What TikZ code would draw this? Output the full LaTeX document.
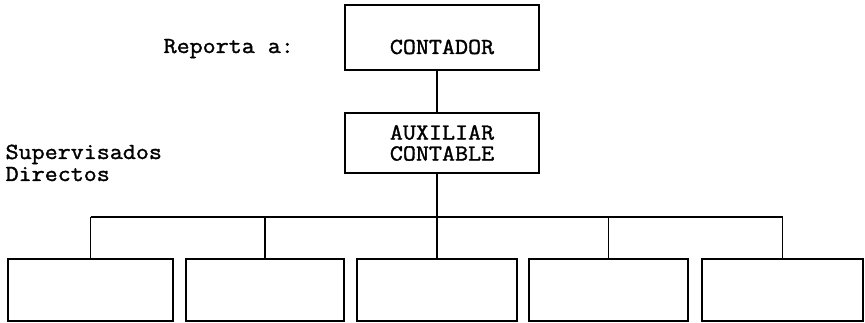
\documentclass[tikz,border=0pt]{standalone}
\usepackage{fontspec}
\newfontfamily\monob{Latin Modern Mono}[FakeBold=1.5, FakeStretch=1.1]
\begin{document}
\begin{tikzpicture}[x=1pt,y=-1pt,
  line width=1.2pt,
  txt/.style={font=\monob\fontsize{23}{22}\selectfont, inner sep=0pt},
  box/.style={draw, inner sep=0pt, font=\monob\fontsize{23}{21}\selectfont, align=center},
  link/.style={draw}]
\useasboundingbox (0,0) rectangle (865,323);
% top boxes
\node[box, minimum width=194pt, minimum height=65pt, text height=33pt, text depth=0pt] (top) at (442,37.5) {CONTADOR};
\node[box, minimum width=194pt, minimum height=60pt] (aux) at (442,143) {AUXILIAR\\CONTABLE};
% bottom boxes
\node[box, minimum width=165pt, minimum height=62pt] (b1) at (90.5,290) {};
\node[box, minimum width=158pt, minimum height=62pt] (b2) at (265,290) {};
\node[box, minimum width=160pt, minimum height=62pt] (b3) at (437,290) {};
\node[box, minimum width=159pt, minimum height=62pt] (b4) at (608.5,290) {};
\node[box, minimum width=161pt, minimum height=62pt] (b5) at (782.5,290) {};
% labels
\node[txt, anchor=base west] (rep) at (163,53) {Reporta a:};
\node[txt, anchor=base west, align=left] (sup) at (5,181) {Supervisados\\Directos};
% connectors
\coordinate (j) at (437,217);
\draw[link] (top.south -| j) -- (aux.north -| j);
\draw[link] (aux.south -| j) -- (j);
\draw[link] (b1.north |- j) -- (b5.north |- j);
\foreach \b in {b1,b2,b3,b4,b5} \draw[link] (\b.north |- j) -- (\b.north);
\end{tikzpicture}
\end{document}
